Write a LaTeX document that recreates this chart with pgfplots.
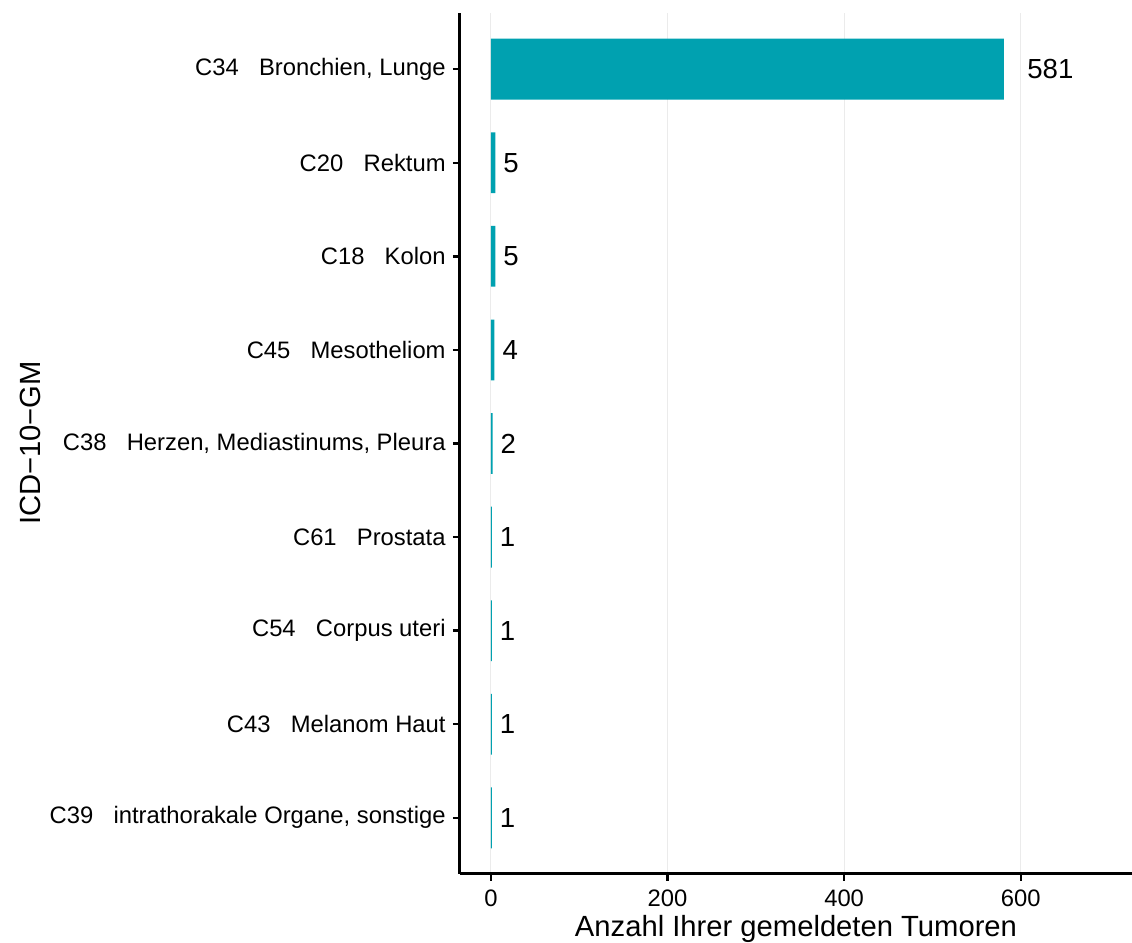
\documentclass[border=0pt]{standalone}
\usepackage{pgfplots}
\pgfplotsset{compat=1.18}
\usepackage{fontspec}
\setmainfont{Liberation Sans}

\definecolor{barteal}{RGB}{0,161,176}
\definecolor{gridgray}{RGB}{235,235,235}

\begin{document}
\begin{tikzpicture}
\useasboundingbox (0,0) rectangle (566pt,471.5pt);
\begin{axis}[
    at={(230pt,34.5pt)}, anchor=south west,
    scale only axis,
    width=336pt, height=430.5pt,
    xbar,
    bar width=0.65,
    xmin=-35, xmax=726,
    ymin=0.4, ymax=9.6,
    axis x line*=bottom,
    axis y line*=left,
    axis line style={line width=1.5pt, black},
    tick align=outside,
    tick pos=left,
    major tick length=3.5pt,
    tick style={line width=1.2pt, black},
    xtick={0,200,400,600},
    ytick={1,...,9},
    yticklabels={
        C39\hspace{0.85em}intrathorakale Organe{,} sonstige,
        C43\hspace{0.85em}Melanom Haut,
        C54\hspace{0.85em}Corpus uteri,
        C61\hspace{0.85em}Prostata,
        C38\hspace{0.85em}Herzen{,} Mediastinums{,} Pleura,
        C45\hspace{0.85em}Mesotheliom,
        C18\hspace{0.85em}Kolon,
        C20\hspace{0.85em}Rektum,
        C34\hspace{0.85em}Bronchien{,} Lunge},
    xmajorgrids,
    grid style={gridgray, line width=0.5pt},
    /pgf/number format/assume math mode=true,
    tick label style={font=\fontsize{11.9}{14}\selectfont},
    yticklabel style={inner sep=0pt, xshift=-3.5pt},
    xticklabel style={anchor=base, yshift=-13pt},
    xlabel={Anzahl Ihrer gemeldeten Tumoren},
    xlabel style={at={(axis description cs:0.5,0)}, anchor=base, yshift=-31.5pt,
        font=\fontsize{14.6}{17}\selectfont},
    nodes near coords={\makebox[1.5\width][r]{\pgfmathprintnumber{\pgfplotspointmeta}}},
    every node near coord/.style={anchor=west, inner sep=0pt, font=\fontsize{13.8}{16}\selectfont, black},
]
\addplot[fill=barteal, draw=none] coordinates {
    (1,1) (1,2) (1,3) (1,4) (2,5) (4,6) (5,7) (5,8) (581,9)
};
\end{axis}
\node[rotate=90, font=\fontsize{14.6}{17}\selectfont] at (15pt,250pt) {ICD−10−GM};
\end{tikzpicture}
\end{document}
